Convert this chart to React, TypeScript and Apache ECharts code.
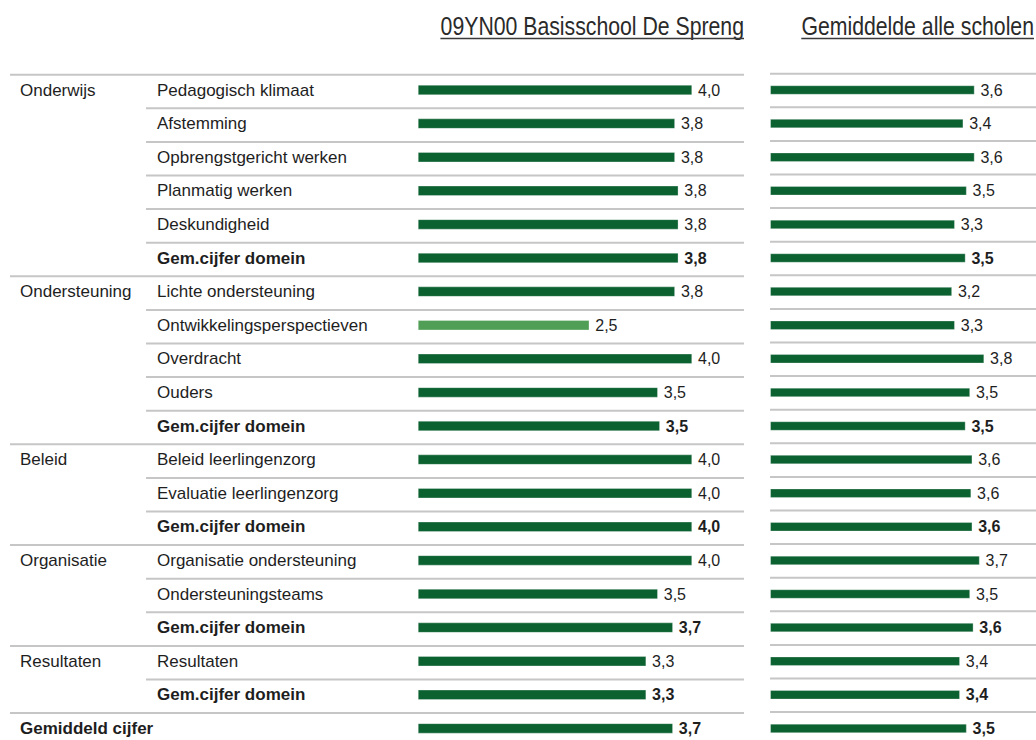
import React, { useEffect, useRef } from "react";
import * as echarts from "echarts";

const panelTitles = ["09YN00 Basisschool De Spreng", "Gemiddelde alle scholen"];
const domainLabels = [
  "Onderwijs", "", "", "", "", "",
  "Ondersteuning", "", "", "", "",
  "Beleid", "", "",
  "Organisatie", "", "",
  "Resultaten", "",
  "Gemiddeld cijfer",
];
const itemLabels = [
  "Pedagogisch klimaat", "Afstemming", "Opbrengstgericht werken", "Planmatig werken", "Deskundigheid", "Gem.cijfer domein",
  "Lichte ondersteuning", "Ontwikkelingsperspectieven", "Overdracht", "Ouders", "Gem.cijfer domein",
  "Beleid leerlingenzorg", "Evaluatie leerlingenzorg", "Gem.cijfer domein",
  "Organisatie ondersteuning", "Ondersteuningsteams", "Gem.cijfer domein",
  "Resultaten", "Gem.cijfer domein",
  "",
];
const schoolScores = [4.0, 3.75, 3.75, 3.8, 3.8, 3.8, 3.75, 2.5, 4.0, 3.5, 3.53, 4.0, 4.0, 4.0, 4.0, 3.5, 3.72, 3.33, 3.33, 3.72];
const averageScores = [3.62, 3.42, 3.62, 3.48, 3.27, 3.46, 3.22, 3.27, 3.79, 3.54, 3.46, 3.58, 3.56, 3.58, 3.71, 3.54, 3.6, 3.36, 3.36, 3.48];

const DARK = "#0b6130";
const LIGHT = "#519f56";
const TEXT = "#1e1e1e";
const SEP = "#c6c6c6";
const LABEL_FONT = "'Liberation Sans', Arial, sans-serif";
const TITLE_FONT = "'Liberation Sans', Arial, sans-serif";
const TITLE_SIZE = 25;
const TITLE_SCALE_X = 0.85;

const isSummary = itemLabels.map((l, i) => l.startsWith("Gem.") || domainLabels[i] === "Gemiddeld cijfer");
const fmt = (v: number) => v.toFixed(1).replace(".", ",");

function measure(text: string, font: string) {
  const ctx = document.createElement("canvas").getContext("2d");
  if (!ctx) return text.length * 11;
  ctx.font = font;
  return ctx.measureText(text).width;
}

export default function App() {
  const ref = useRef<HTMLDivElement>(null);
  useEffect(() => {
    document.body.style.margin = "0";
    if (!ref.current) return;
    const chart = echarts.init(ref.current, undefined, { renderer: "svg" });

    const gridTop = 73.2;
    const gridHeight = 672;
    const leftX0 = 418;
    const rightX0 = 770.3;
    const maxV = 4.5;

    const makeSeries = (vals: number[], xi: number, yi: number, bw: number) => ({
      type: "bar",
      xAxisIndex: xi,
      yAxisIndex: yi,
      barWidth: bw,
      data: vals.map((v, i) => ({
        value: v,
        itemStyle: { color: v < 3 ? LIGHT : DARK, borderColor: "rgba(255,255,255,0.6)", borderWidth: 0.5 },
        label: { fontWeight: isSummary[i] ? "bold" : "normal" },
      })),
      label: {
        show: true,
        position: "right",
        distance: 6,
        fontSize: 16,
        fontFamily: LABEL_FONT,
        color: TEXT,
        formatter: (p: any) => fmt(p.value),
      },
    });

    const richLabel = {
      n: { fontSize: 17, fontFamily: LABEL_FONT, color: TEXT },
      b: { fontSize: 17, fontFamily: LABEL_FONT, color: TEXT, fontWeight: "bold" },
    };

    chart.setOption({
      animation: false,
      grid: [
        { left: leftX0, top: gridTop, width: maxV * 68.5, height: gridHeight, containLabel: false, outerBoundsMode: "none" },
        { left: rightX0, top: gridTop, width: maxV * 56.4, height: gridHeight, containLabel: false, outerBoundsMode: "none" },
      ],
      xAxis: [
        { type: "value", gridIndex: 0, min: 0, max: maxV, show: false },
        { type: "value", gridIndex: 1, min: 0, max: maxV, show: false },
      ],
      yAxis: [
        {
          type: "category", gridIndex: 0, position: "left", offset: 0, inverse: true, data: itemLabels,
          axisLine: { show: false }, axisTick: { show: false }, splitLine: { show: false },
          axisLabel: {
            align: "left", margin: leftX0 - 157, interval: 0,
            formatter: (v: string, i: number) => (v ? `{${isSummary[i] ? "b" : "n"}|${v}}` : ""),
            rich: richLabel,
          },
        },
        {
          type: "category", gridIndex: 0, position: "left", offset: 0, inverse: true,
          data: domainLabels.map((d, i) => d || " ".repeat(i + 1)),
          axisLine: { show: false }, axisTick: { show: false }, splitLine: { show: false },
          axisLabel: {
            align: "left", margin: leftX0 - 20, interval: 0,
            formatter: (v: string, i: number) => {
              const d = domainLabels[i];
              return d ? `{${isSummary[i] ? "b" : "n"}|${d}}` : "";
            },
            rich: richLabel,
          },
        },
        {
          type: "category", gridIndex: 1, inverse: true, data: itemLabels.map((_, i) => String(i)), show: false,
        },
      ],
      series: [
        makeSeries(schoolScores, 0, 0, 10),
        makeSeries(averageScores, 1, 2, 9),
      ],
    });

    // separators from axis positions
    const n = itemLabels.length;
    const centers = itemLabels.map((_, i) => chart.convertToPixel({ yAxisIndex: 0 }, i) as number);
    const band = n > 1 ? centers[1] - centers[0] : gridHeight / n;
    const lines: any[] = [];
    const addLine = (x1: number, x2: number, y: number) =>
      lines.push({ type: "line", shape: { x1, y1: y, x2, y2: y }, style: { stroke: SEP, lineWidth: 2 }, silent: true });
    for (let i = 0; i < n; i++) {
      const y = centers[i] - band / 2 + 1.5;
      addLine(domainLabels[i] ? 10 : 146, 744, y);
      addLine(770, 1036, y - 1);
    }

    const titleFont = `${TITLE_SIZE}px ${TITLE_FONT}`;
    const titleRights = [744, 1034];
    const titles: any[] = [];
    panelTitles.forEach((t, k) => {
      const w = measure(t, titleFont) * TITLE_SCALE_X;
      titles.push({
        type: "text", x: titleRights[k], y: 26, scaleX: TITLE_SCALE_X,
        style: { text: t, font: titleFont, fill: "#2a2a2a", align: "right", verticalAlign: "middle" },
      });
      titles.push({
        type: "line", shape: { x1: titleRights[k] - w, y1: 38.5, x2: titleRights[k], y2: 38.5 },
        style: { stroke: "#3a3a3a", lineWidth: 1.5 },
      });
    });

    chart.setOption({ graphic: [...lines, ...titles] });
    return () => chart.dispose();
  }, []);
  return <div ref={ref} style={{ width: 1036, height: 740 }} />;
}
